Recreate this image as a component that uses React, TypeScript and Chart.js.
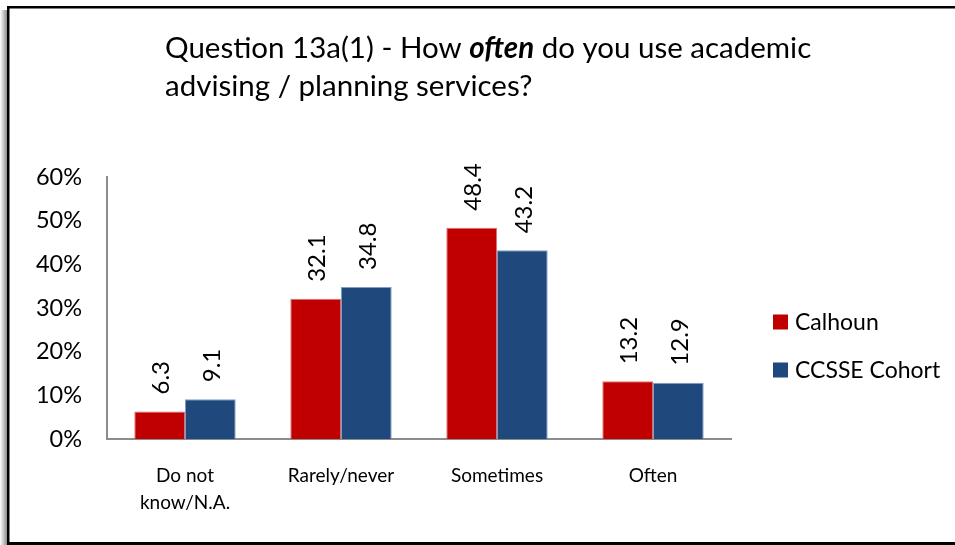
import React, { useEffect, useRef } from "react";
import { Chart, registerables } from "chart.js";

Chart.register(...registerables);

const categories: (string | string[])[] = [["Do not", "know/N.A."], "Rarely/never", "Sometimes", "Often"];
const calhounValues = [6.3, 32.1, 48.4, 13.2];
const cohortValues = [9.1, 34.8, 43.2, 12.9];
const seriesNames = ["Calhoun", "CCSSE Cohort"];
const seriesColors = ["#C00000", "#1F497D"];
const seriesEdges = ["#E07070", "#7F9CC4"];
const yMin = 0;
const yMax = 60;
const yStep = 10;
const titleLine1 = [
  { text: "Question 13a(1) - How ", emphasis: false },
  { text: "often", emphasis: true },
  { text: " do you use academic", emphasis: false },
];
const titleLine2 = "advising / planning services?";

const FONT = "Lato, 'Liberation Sans', sans-serif";

const framePlugin = {
  id: "frame",
  beforeDraw(chart: any) {
    const ctx = chart.ctx;
    const w = chart.width;
    const h = chart.height;
    ctx.save();
    ctx.fillStyle = "#ffffff";
    ctx.fillRect(0, 0, w, h);
    const g = ctx.createLinearGradient(0, 0, 7, 0);
    g.addColorStop(0, "rgba(255,255,255,1)");
    g.addColorStop(1, "rgba(140,140,140,1)");
    ctx.fillStyle = g;
    ctx.fillRect(0, 10, 7, h - 10);
    ctx.fillStyle = "#000000";
    ctx.fillRect(7, 6, w - 7, 2.5);
    ctx.fillRect(7, 6, 2.5, h - 6);
    ctx.fillRect(7, 542, w - 7, 3);
    ctx.restore();
  },
};

const titlePlugin = {
  id: "mixedTitle",
  afterDraw(chart: any) {
    const ctx = chart.ctx;
    ctx.save();
    ctx.fillStyle = "#000000";
    ctx.textBaseline = "alphabetic";
    ctx.textAlign = "left";
    let x = 165;
    for (const part of titleLine1) {
      ctx.font = (part.emphasis ? "italic bold " : "") + "29.5px " + FONT;
      ctx.fillText(part.text, x, 58);
      x += ctx.measureText(part.text).width;
    }
    ctx.font = "29.5px " + FONT;
    ctx.fillText(titleLine2, 165, 96);
    ctx.restore();
  },
};

const valueLabelPlugin = {
  id: "valueLabels",
  afterDatasetsDraw(chart: any) {
    const ctx = chart.ctx;
    ctx.save();
    ctx.fillStyle = "#000000";
    ctx.font = "24px " + FONT;
    ctx.textAlign = "left";
    ctx.textBaseline = "middle";
    chart.data.datasets.forEach((ds: any, di: number) => {
      const meta = chart.getDatasetMeta(di);
      meta.data.forEach((el: any, i: number) => {
        const v = ds.data[i];
        ctx.save();
        ctx.translate(el.x + 2, el.y - 17);
        ctx.rotate(-Math.PI / 2);
        ctx.fillText(Number(v).toFixed(1), 0, 0);
        ctx.restore();
      });
    });
    ctx.restore();
  },
};

const legendPlugin = {
  id: "sideLegend",
  afterDraw(chart: any) {
    const ctx = chart.ctx;
    ctx.save();
    ctx.font = "23px " + FONT;
    ctx.textBaseline = "middle";
    ctx.textAlign = "left";
    chart.data.datasets.forEach((ds: any, i: number) => {
      const cy = 322 + i * 48;
      ctx.fillStyle = ds.backgroundColor;
      ctx.fillRect(773, cy - 7.5, 15, 15);
      ctx.fillStyle = "#000000";
      ctx.fillText(ds.label, 795, cy + 1);
    });
    ctx.restore();
  },
};

export default function App() {
  const canvasRef = useRef<HTMLCanvasElement | null>(null);

  useEffect(() => {
    if (!canvasRef.current) return;
    const chart = new Chart(canvasRef.current, {
      type: "bar",
      data: {
        labels: categories,
        datasets: [
          {
            label: seriesNames[0],
            data: calhounValues,
            backgroundColor: seriesColors[0],
            borderColor: seriesEdges[0],
            borderWidth: 1,
            categoryPercentage: 0.65,
            barPercentage: 1.0,
          },
          {
            label: seriesNames[1],
            data: cohortValues,
            backgroundColor: seriesColors[1],
            borderColor: seriesEdges[1],
            borderWidth: 1,
            categoryPercentage: 0.65,
            barPercentage: 1.0,
          },
        ],
      },
      options: {
        responsive: false,
        animation: false,
        layout: { padding: { left: 0, right: 224, top: 177, bottom: 0 } },
        plugins: {
          legend: { display: false },
          title: { display: false },
          tooltip: { enabled: false },
        },
        scales: {
          x: {
            grid: { display: false, drawTicks: false },
            border: { display: true, color: "#8c8c8c", width: 2 },
            ticks: {
              color: "#000000",
              font: { family: FONT, size: 19, lineHeight: 27 / 19 },
              padding: 23,
              maxRotation: 0,
              autoSkip: false,
            },
            afterFit(scale: any) {
              scale.height = 106;
            },
          },
          y: {
            min: yMin,
            max: yMax,
            grid: { display: false, drawTicks: false },
            border: { display: true, color: "#8c8c8c", width: 2 },
            ticks: {
              stepSize: yStep,
              color: "#000000",
              font: { family: FONT, size: 23.5 },
              padding: 25,
              callback: (v: any) => v + "%",
            },
            afterFit(scale: any) {
              scale.width = 107;
            },
          },
        },
      },
      plugins: [framePlugin, titlePlugin, valueLabelPlugin, legendPlugin],
    } as any);
    return () => chart.destroy();
  }, []);

  return (
    <div style={{ position: "fixed", left: 0, top: 0, width: 955, height: 545, background: "#fff" }}>
      <canvas ref={canvasRef} width={955} height={545} style={{ display: "block" }} />
    </div>
  );
}
